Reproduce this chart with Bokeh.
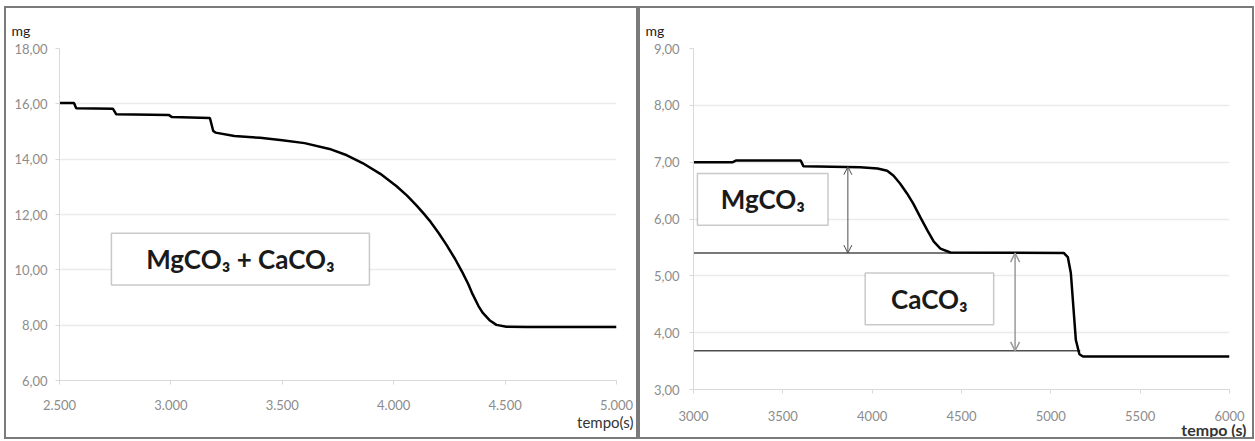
from bokeh.plotting import figure
from bokeh.layouts import row, column, Spacer
from bokeh.models import (FixedTicker, Label, BoxAnnotation, Arrow, OpenHead, ColumnDataSource, Title)
from bokeh.embed import file_html
from bokeh.resources import INLINE

# ---------------- data ----------------
# Left panel: MgCO3 + CaCO3 (mass in mg vs time in s)
left_t = [2500, 2565, 2575, 2740, 2755, 2990, 3005, 3175, 3190, 3200, 3285, 3400, 3500,
          3600, 3712, 3790, 3860, 3940, 4013, 4060, 4102, 4135, 4161, 4200, 4237, 4275,
          4309, 4335, 4354, 4380, 4399, 4430, 4461, 4506, 4600, 5000]
left_m = [16.03, 16.03, 15.84, 15.82, 15.62, 15.60, 15.52, 15.49, 15.02, 14.96, 14.84, 14.77, 14.68,
          14.58, 14.37, 14.14, 13.86, 13.47, 13.02, 12.68, 12.33, 12.03, 11.78, 11.35, 10.90, 10.40,
          9.90, 9.48, 9.12, 8.70, 8.45, 8.18, 8.01, 7.94, 7.93, 7.93]

# Right panel: decomposition steps
right_t = [3000, 3220, 3240, 3600, 3615, 3933, 4030, 4084, 4120, 4157, 4195, 4230, 4270,
           4309, 4345, 4382, 4438, 5073, 5095, 5112, 5140, 5160, 5180, 6000]
right_m = [7.00, 7.00, 7.03, 7.03, 6.93, 6.91, 6.89, 6.85, 6.76, 6.62, 6.45, 6.27, 6.03,
           5.80, 5.60, 5.48, 5.41, 5.40, 5.33, 5.05, 3.87, 3.62, 3.58, 3.58]

# annotation levels (mg) and arrow positions (s)
level_mg_start = 6.92
level_ca_start = 5.40
level_ca_end = 3.68
arrow_mg_t = 3864
arrow_ca_t = 4800
upper_line_end_t = 5080
lower_line_end_t = 5165

left_xticks = [2500, 3000, 3500, 4000, 4500, 5000]
left_xlabels = ["2.500", "3.000", "3.500", "4.000", "4.500", "5.000"]
left_yticks = [6, 8, 10, 12, 14, 16, 18]
left_ylabels = ["6,00", "8,00", "10,00", "12,00", "14,00", "16,00", "18,00"]
right_xticks = [3000, 3500, 4000, 4500, 5000, 5500, 6000]
right_xlabels = ["3000", "3500", "4000", "4500", "5000", "5500", "6000"]
right_yticks = [3, 4, 5, 6, 7, 8, 9]
right_ylabels = ["3,00", "4,00", "5,00", "6,00", "7,00", "8,00", "9,00"]

FONT = "Lato"
TICK_COLOR = "#8c8c8c"
AXIS_COLOR = "#d9d9d9"
GRID_COLOR = "#ebebeb"
BORDER = {"border": "2px solid #7a7a7a", "box-sizing": "border-box"}


def style(p, xt, xl, yt, yl, xstand, ystand):
    if "frame_align" in p.properties():
        p.frame_align = False
    p.xaxis.ticker = FixedTicker(ticks=xt)
    p.yaxis.ticker = FixedTicker(ticks=yt)
    p.xaxis.major_label_overrides = {k: v for k, v in zip(xt, xl)}
    p.yaxis.major_label_overrides = {k: v for k, v in zip(yt, yl)}
    for ax in (p.xaxis[0], p.yaxis[0]):
        ax.axis_line_color = AXIS_COLOR
        ax.major_tick_line_color = AXIS_COLOR
        ax.major_tick_in = 0
        ax.major_tick_out = 4
        ax.minor_tick_line_color = None
        ax.major_label_text_font = FONT
        ax.major_label_text_font_size = "13px"
        ax.major_label_text_color = TICK_COLOR
    p.xaxis.major_label_standoff = xstand
    p.yaxis.major_label_standoff = ystand
    p.xgrid.grid_line_color = None
    p.ygrid.grid_line_color = GRID_COLOR
    p.ygrid.grid_line_width = 1.5
    p.outline_line_color = None
    p.background_fill_color = "white"
    p.border_fill_color = "white"


def box_label(p, x, y, txt):
    p.add_layout(Label(x=x, y=y, text=txt, text_font=FONT, text_font_style="bold",
                       text_font_size="26px", text_color="#1a1a1a",
                       text_align="center", text_baseline="middle"))


def mg_title(p):
    p.add_layout(Title(text="mg", align="left", offset=-48, standoff=18, vertical_align="middle",
                       text_font=FONT, text_font_size="14px", text_font_style="normal",
                       text_color="#222222"), "above")


# ---------------- left figure ----------------
p1 = figure(width=634, height=433, x_range=(2500, 5000), y_range=(6, 18),
            output_backend="svg", toolbar_location=None,
            min_border_left=53, min_border_right=24, min_border_top=40, min_border_bottom=61,
            styles=BORDER)
mg_title(p1)
p1.add_layout(Title(text="tempo(s)", align="right", offset=-17, standoff=0, vertical_align="top",
                    text_font=FONT, text_font_size="15px", text_font_style="normal",
                    text_color="#333333"), "below")
style(p1, left_xticks, left_xlabels, left_yticks, left_ylabels, 15, 8)
p1.line(left_t, left_m, line_color="black", line_width=2.5)

p1.add_layout(BoxAnnotation(left=2733, right=3891, bottom=9.45, top=11.32,
                            fill_color="white", fill_alpha=1.0,
                            line_color="#4d4d4d", line_width=1.5))
box_label(p1, 3312, 10.38, "MgCO₃ + CaCO₃")

# ---------------- right figure ----------------
p2 = figure(width=616, height=433, x_range=(3000, 6000), y_range=(3, 9),
            output_backend="svg", toolbar_location=None,
            min_border_left=53, min_border_right=27, min_border_top=40, min_border_bottom=52,
            styles=BORDER)
mg_title(p2)
p2.add_layout(Title(text="tempo (s)", align="right", offset=-17, standoff=-8, vertical_align="top",
                    text_font=FONT, text_font_size="16px", text_font_style="bold",
                    text_color="#333333"), "below")
style(p2, right_xticks, right_xlabels, right_yticks, right_ylabels, 17, 10)

src_lines = ColumnDataSource(dict(x0=[3000, 3000], x1=[upper_line_end_t, lower_line_end_t],
                                  y=[level_ca_start, level_ca_end]))
p2.segment(x0="x0", y0="y", x1="x1", y1="y", source=src_lines, line_color="#4d4d4d", line_width=1.5)
p2.line(right_t, right_m, line_color="black", line_width=2.5)

p2.add_layout(Arrow(start=OpenHead(size=8, line_color="#4d4d4d", line_width=1),
                    end=OpenHead(size=8, line_color="#4d4d4d", line_width=1),
                    x_start=arrow_mg_t, y_start=level_ca_start,
                    x_end=arrow_mg_t, y_end=level_mg_start,
                    line_color="#4d4d4d", line_width=1))
p2.add_layout(Arrow(start=OpenHead(size=9, line_color="#9a9a9a", line_width=1.5),
                    end=OpenHead(size=9, line_color="#9a9a9a", line_width=1.5),
                    x_start=arrow_ca_t, y_start=level_ca_end,
                    x_end=arrow_ca_t, y_end=level_ca_start,
                    line_color="#9a9a9a", line_width=1.5))

p2.add_layout(BoxAnnotation(left=3022, right=3753, bottom=5.89, top=6.80,
                            fill_color="white", fill_alpha=1.0,
                            line_color="#4d4d4d", line_width=1.5))
box_label(p2, 3388, 6.35, "MgCO₃")
p2.add_layout(BoxAnnotation(left=3961, right=4680, bottom=4.14, top=5.05,
                            fill_color="white", fill_alpha=1.0,
                            line_color="#4d4d4d", line_width=1.5))
box_label(p2, 4320, 4.60, "CaCO₃")

layout = column(Spacer(height=6), row(Spacer(width=4), p1, p2))
open("out.html", "w").write(file_html(layout, INLINE))
